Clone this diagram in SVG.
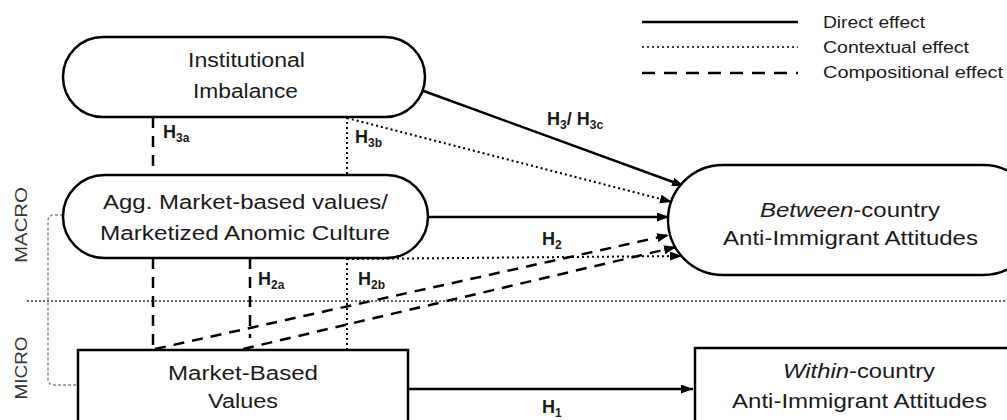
<svg xmlns="http://www.w3.org/2000/svg" width="1007" height="420" viewBox="0 0 1007 420">
<style>
  .node { fill: #ffffff; stroke: #000; stroke-width: 2.5; }
  .t { font-family: "Liberation Sans", Arial, sans-serif; font-size: 20px; fill: #1a1a1a; }
  .lg { font-family: "Liberation Sans", Arial, sans-serif; font-size: 16px; fill: #1a1a1a; }
  .lab { font-family: "Liberation Sans", Arial, sans-serif; font-size: 18px; font-weight: bold; fill: #1a1a1a; }
  .sub { font-size: 12px; }
  .side { font-family: "Liberation Sans", Arial, sans-serif; font-size: 17px; fill: #333; }
  .solid { stroke: #000; stroke-width: 2.5; fill: none; }
  .dash { stroke: #000; stroke-width: 2.5; fill: none; stroke-dasharray: 11 8; }
  .dot { stroke: #000; stroke-width: 2; fill: none; stroke-dasharray: 2 3; }
  .sep { stroke: #333; stroke-width: 1.5; fill: none; stroke-dasharray: 2 2; }
  .bracket { stroke: #888; stroke-width: 1.5; fill: none; stroke-dasharray: 3 2; }
</style>
<defs>
  <marker id="arr" markerUnits="userSpaceOnUse" markerWidth="13" markerHeight="10" refX="12" refY="4.5" orient="auto">
    <path d="M0,0 L12,4.5 L0,9 z" fill="#000"/>
  </marker>
</defs>

<g id="legend">
  <line class="solid" x1="642" y1="22" x2="798" y2="22"/>
  <line class="dot" x1="642" y1="47" x2="798" y2="47" style="stroke-width:1.5"/>
  <line class="dash" x1="642" y1="73" x2="798" y2="73" style="stroke-dasharray:13 9"/>
  <text class="lg" x="823" y="28" textLength="102" lengthAdjust="spacingAndGlyphs">Direct effect</text>
  <text class="lg" x="823" y="53" textLength="146" lengthAdjust="spacingAndGlyphs">Contextual effect</text>
  <text class="lg" x="823" y="78" textLength="180" lengthAdjust="spacingAndGlyphs">Compositional effect</text>
</g>

<g id="levels">
  <line class="sep" x1="27" y1="301" x2="1007" y2="301"/>
  <path class="bracket" d="M63,215 L54,215 Q48,215 48,221 L48,379 Q48,385 54,385 L78,385"/>
  <text class="side" transform="translate(27,225) rotate(-90)" text-anchor="middle" textLength="76" lengthAdjust="spacingAndGlyphs">MACRO</text>
  <text class="side" transform="translate(27,368) rotate(-90)" text-anchor="middle" textLength="63" lengthAdjust="spacingAndGlyphs">MICRO</text>
</g>

<g id="connectors">
  <line class="solid" x1="421" y1="90" x2="684" y2="186" marker-end="url(#arr)"/>
  <line class="dash" x1="153" y1="117" x2="153" y2="175"/>
  <line class="dot" x1="347" y1="117" x2="347" y2="175"/>
  <line class="dot" x1="347" y1="118" x2="672" y2="202" marker-end="url(#arr)"/>
  <line class="solid" x1="428" y1="217" x2="669" y2="217" marker-end="url(#arr)"/>
  <line class="dot" x1="347" y1="259" x2="682" y2="256" marker-end="url(#arr)"/>
  <line class="dot" x1="347" y1="258" x2="347" y2="350"/>
  <line class="dash" x1="153" y1="258" x2="153" y2="350"/>
  <line class="dash" x1="250" y1="258" x2="250" y2="338"/>
  <line class="dash" x1="155" y1="349" x2="669" y2="235" marker-end="url(#arr)"/>
  <line class="dash" x1="243" y1="349" x2="676" y2="247" marker-end="url(#arr)"/>
  <line class="solid" x1="408" y1="389" x2="693" y2="389" marker-end="url(#arr)"/>
</g>

<g id="labels">
  <text class="lab" x="163" y="138">H<tspan class="sub" dy="4">3a</tspan></text>
  <text class="lab" x="355" y="143">H<tspan class="sub" dy="4">3b</tspan></text>
  <text class="lab" x="547" y="125">H<tspan class="sub" dy="4">3</tspan><tspan dy="-4">/ H</tspan><tspan class="sub" dy="4">3c</tspan></text>
  <text class="lab" x="542" y="245">H<tspan class="sub" dy="4">2</tspan></text>
  <text class="lab" x="258" y="285">H<tspan class="sub" dy="4">2a</tspan></text>
  <text class="lab" x="358" y="285">H<tspan class="sub" dy="4">2b</tspan></text>
  <text class="lab" x="542" y="413">H<tspan class="sub" dy="4">1</tspan></text>
</g>

<g id="institutional">
  <rect class="node" x="63" y="37" width="362" height="80" rx="40"/>
  <text class="t" x="246.5" y="67" text-anchor="middle" textLength="117" lengthAdjust="spacingAndGlyphs">Institutional</text>
  <text class="t" x="245.5" y="98" text-anchor="middle" textLength="105" lengthAdjust="spacingAndGlyphs">Imbalance</text>
</g>

<g id="agg">
  <rect class="node" x="63" y="175" width="365" height="83" rx="41.5"/>
  <text class="t" x="245.5" y="209" text-anchor="middle" textLength="285" lengthAdjust="spacingAndGlyphs">Agg. Market-based values/</text>
  <text class="t" x="245" y="240" text-anchor="middle" textLength="290" lengthAdjust="spacingAndGlyphs">Marketized Anomic Culture</text>
</g>

<g id="between">
  <rect class="node" x="668" y="165" width="370" height="110" rx="55"/>
  <text class="t" x="850" y="217" text-anchor="middle" textLength="180" lengthAdjust="spacingAndGlyphs"><tspan font-style="italic">Between</tspan>-country</text>
  <text class="t" x="850.5" y="245" text-anchor="middle" textLength="255" lengthAdjust="spacingAndGlyphs">Anti-Immigrant  Attitudes</text>
</g>

<g id="market">
  <rect class="node" x="78" y="350" width="330" height="100"/>
  <text class="t" x="243" y="380" text-anchor="middle" textLength="150" lengthAdjust="spacingAndGlyphs">Market-Based</text>
  <text class="t" x="243" y="408" text-anchor="middle" textLength="70" lengthAdjust="spacingAndGlyphs">Values</text>
</g>

<g id="within">
  <rect class="node" x="695" y="348" width="330" height="100"/>
  <text class="t" x="859" y="378" text-anchor="middle" textLength="152" lengthAdjust="spacingAndGlyphs"><tspan font-style="italic">Within</tspan>-country</text>
  <text class="t" x="859.5" y="408" text-anchor="middle" textLength="255" lengthAdjust="spacingAndGlyphs">Anti-Immigrant  Attitudes</text>
</g>
</svg>
